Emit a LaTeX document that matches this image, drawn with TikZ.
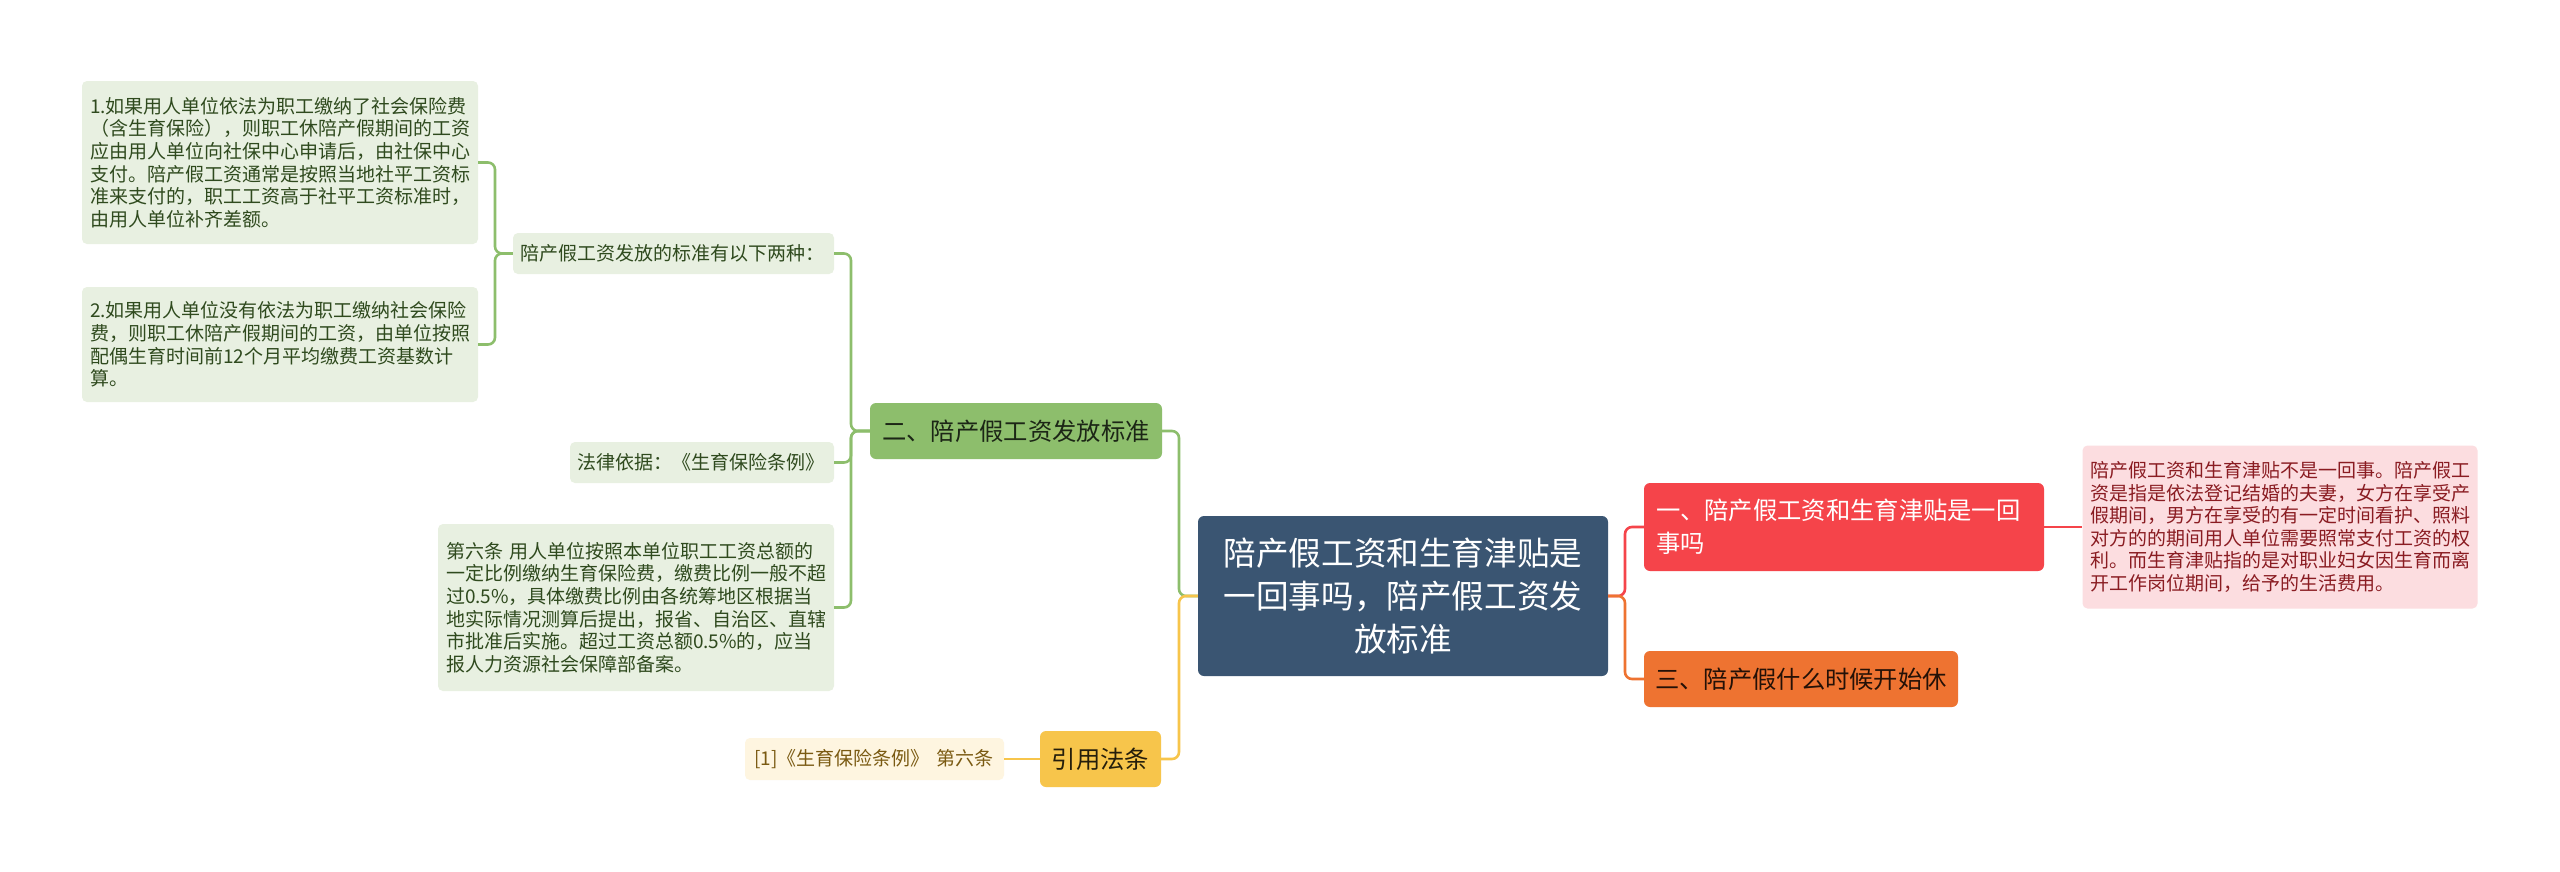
\documentclass[tikz,border=0pt]{standalone}
\usepackage{fontspec}
\setmainfont{Noto Sans CJK SC}
\usepackage{tikz}
\usetikzlibrary{calc,positioning}
\definecolor{rootx}{HTML}{3A5572}
\definecolor{redx}{HTML}{F5444A}
\definecolor{orangex}{HTML}{EE7331}
\definecolor{pinkbg}{HTML}{FCDDE0}
\definecolor{pinktx}{HTML}{8A1C22}
\definecolor{greenx}{HTML}{8DBE6C}
\definecolor{greenbg}{HTML}{E8F0E1}
\definecolor{greentx}{HTML}{2F4A1E}
\definecolor{yellowx}{HTML}{F7C54B}
\definecolor{yellowbg}{HTML}{FEF5E0}
\definecolor{yellowtx}{HTML}{7A5A12}
\tikzset{
  box/.style={rounded corners=6pt,inner sep=0pt,align=center,font=\fontsize{24.3}{33}\selectfont},
  leaf/.style={rounded corners=5pt,inner sep=0pt,align=left,font=\fontsize{19}{22.6}\selectfont},
  lnk/.style={line width=2.6pt,rounded corners=7pt}
}
\begin{document}
\begin{tikzpicture}[x=1pt,y=-1pt]
\fill[white] (0,0) rectangle (2560,871);
\useasboundingbox (0,0) rectangle (2560,871);
% centre and main branches
\node[box,fill=rootx,text=white,minimum width=410pt,minimum height=160pt,text width=380pt,
  font=\fontsize{32.6}{43}\selectfont] (root) at (1403,596)
  {陪产假工资和生育津贴是\\一回事吗，陪产假工资发\\放标准};
\node[box,fill=redx,text=white,minimum width=400pt,minimum height=88pt,text width=376pt,align=left]
  (sec1) at (1844,527) {一、陪产假工资和生育津贴是一回\\事吗};
\node[box,fill=orangex,text=black!85!orangex,minimum width=314pt,minimum height=56pt]
  (sec3) at (1801,679) {三、陪产假什么时候开始休};
\node[box,fill=greenx,text=black!80!greenx,minimum width=292pt,minimum height=56pt]
  (sec2) at (1016,431) {二、陪产假工资发放标准};
\node[box,fill=yellowx,text=black!85!yellowx,minimum width=121pt,minimum height=56pt]
  (cite) at (1100.5,759) {引用法条};
% leaves
\node[leaf,fill=pinkbg,text=pinktx,minimum width=395pt,minimum height=163pt,text width=380pt]
  (note1) at (2280,527) {陪产假工资和生育津贴不是一回事。陪产假工\\资是指是依法登记结婚的夫妻，女方在享受产\\假期间，男方在享受的有一定时间看护、照料\\对方的的期间用人单位需要照常支付工资的权\\利。而生育津贴指的是对职业妇女因生育而离\\开工作岗位期间，给予的生活费用。};
\node[leaf,fill=greenbg,text=greentx,minimum width=321pt,minimum height=41pt,text width=306pt]
  (std) at (673.5,253.5) {陪产假工资发放的标准有以下两种：};
\node[leaf,fill=greenbg,text=greentx,minimum width=264pt,minimum height=41pt,text width=250pt]
  (law) at (702,462.5) {法律依据：《生育保险条例》};
\node[leaf,fill=greenbg,text=greentx,minimum width=396pt,minimum height=167pt,text width=380pt]
  (art6) at (636,607.5) {第六条 用人单位按照本单位职工工资总额的\\一定比例缴纳生育保险费，缴费比例一般不超\\过0.5\%，具体缴费比例由各统筹地区根据当\\地实际情况测算后提出，报省、自治区、直辖\\市批准后实施。超过工资总额0.5\%的，应当\\报人力资源社会保障部备案。};
\node[leaf,fill=greenbg,text=greentx,minimum width=396pt,minimum height=163pt,text width=380pt]
  (item1) at (280,162.5) {1.如果用人单位依法为职工缴纳了社会保险费\\（含生育保险），则职工休陪产假期间的工资\\应由用人单位向社保中心申请后，由社保中心\\支付。陪产假工资通常是按照当地社平工资标\\准来支付的，职工工资高于社平工资标准时，\\由用人单位补齐差额。};
\node[leaf,fill=greenbg,text=greentx,minimum width=396pt,minimum height=115pt,text width=380pt]
  (item2) at (280,344.5) {2.如果用人单位没有依法为职工缴纳社会保险\\费，则职工休陪产假期间的工资，由单位按照\\配偶生育时间前12个月平均缴费工资基数计\\算。};
\node[leaf,fill=yellowbg,text=yellowtx,minimum width=259pt,minimum height=42pt,text width=240pt]
  (ref1) at (874.5,759) {[1]《生育保险条例》 第六条};
% junctions
\coordinate (jl) at (1179,596);
\coordinate (jr) at (1625,596);
\coordinate (jg) at (851,431);
\coordinate (js) at (495,253.5);
% connectors
\draw[lnk,redx] (root.east) -- (jr) |- (sec1.west);
\draw[lnk,orangex] (root.east) -- (jr) |- (sec3.west);
\draw[lnk,greenx] (root.west) -- (jl) |- (sec2.east);
\draw[lnk,yellowx] (root.west) -- (jl) |- (cite.east);
\draw[lnk,redx] (sec1.east) -- (note1.west);
\draw[lnk,yellowx] (cite.west) -- (ref1.east);
\draw[lnk,greenx] (sec2.west) -- (jg) |- (std.east);
\draw[lnk,greenx] (sec2.west) -- (jg) |- (law.east);
\draw[lnk,greenx] (sec2.west) -- (jg) |- (art6.east);
\draw[lnk,greenx] (std.west) -- (js) |- (item1.east);
\draw[lnk,greenx] (std.west) -- (js) |- (item2.east);
\end{tikzpicture}
\end{document}
